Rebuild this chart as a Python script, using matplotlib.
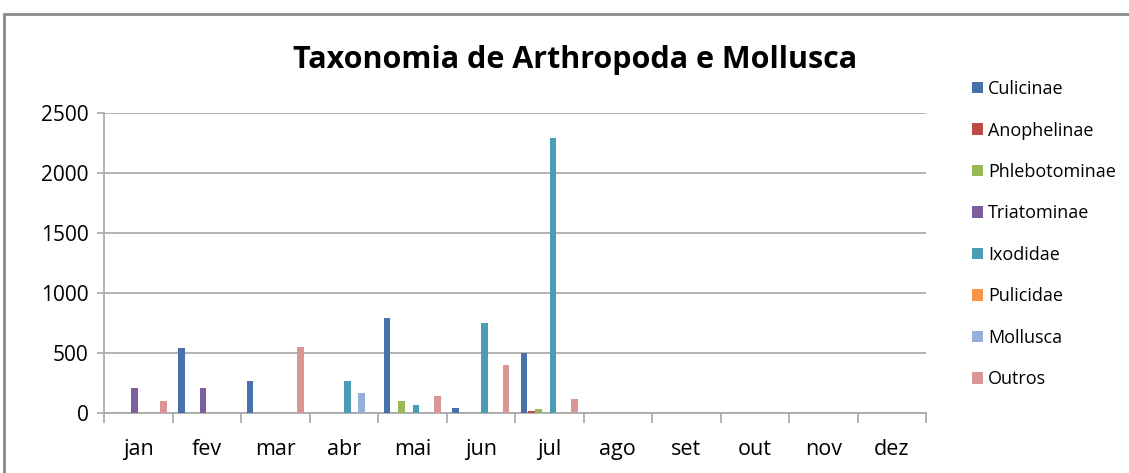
import matplotlib.pyplot as plt
import numpy as np
from matplotlib.patches import Rectangle, Patch

meses = ['jan', 'fev', 'mar', 'abr', 'mai', 'jun', 'jul', 'ago', 'set', 'out', 'nov', 'dez']
series = ['Culicinae', 'Anophelinae', 'Phlebotominae', 'Triatominae',
          'Ixodidae', 'Pulicidae', 'Mollusca', 'Outros']

culicinae     = [0, 540, 270, 0, 795, 45, 500, 0, 0, 0, 0, 0]
anophelinae   = [0, 0, 0, 0, 0, 0, 15, 0, 0, 0, 0, 0]
phlebotominae = [0, 0, 0, 0, 100, 0, 35, 0, 0, 0, 0, 0]
triatominae   = [205, 205, 0, 0, 0, 0, 0, 0, 0, 0, 0, 0]
ixodidae      = [0, 0, 0, 270, 65, 750, 2290, 0, 0, 0, 0, 0]
pulicidae     = [0, 0, 0, 0, 0, 0, 0, 0, 0, 0, 0, 0]
mollusca      = [0, 0, 0, 165, 0, 0, 0, 0, 0, 0, 0, 0]
outros        = [100, 0, 550, 0, 140, 400, 120, 0, 0, 0, 0, 0]

valores = [culicinae, anophelinae, phlebotominae, triatominae,
           ixodidae, pulicidae, mollusca, outros]
cores = ['#4672A9', '#BE4B48', '#98B954', '#7D5FA0',
         '#4A9DB5', '#F79646', '#95B0D8', '#D99694']

plt.rcParams['font.family'] = ['Open Sans', 'DejaVu Sans']

fig = plt.figure(figsize=(11.29, 4.73), dpi=100)
ax = fig.add_axes([104 / 1129, 1 - 413 / 473, (926 - 104) / 1129, 300 / 473])

# moldura externa do gráfico
fig.patches.append(Rectangle((4 / 1129, -0.1), 1.2, 1 - 14 / 473 + 0.1,
                             transform=fig.transFigure, fill=False,
                             edgecolor='#8a8a8a', linewidth=2))

x = np.arange(len(meses))
w = 1 / 9.5
for k, (nome, vals) in enumerate(zip(series, valores)):
    v = np.array(vals, dtype=float)
    v[v == 0] = np.nan
    ax.bar(x + 0.5 + (k - 3.5) * w, v, width=w * 0.92, color=cores[k], zorder=3)

ax.set_xlim(0, 12)
ax.set_ylim(0, 2500)
ax.set_yticks([0, 500, 1000, 1500, 2000, 2500])
ax.yaxis.grid(True, color='#a6a6a6', linewidth=1.2, zorder=0)
ax.set_xticks(x + 0.5)
ax.set_xticklabels(meses)
ax.set_xticks(np.arange(13), minor=True)
ax.tick_params(axis='x', which='major', length=0, labelsize=15.5, pad=19)
ax.tick_params(axis='x', which='minor', length=7, color='#a6a6a6', width=1.2)
ax.tick_params(axis='y', length=5, color='#a6a6a6', width=1.2, labelsize=15, pad=6)
for s in ['top', 'right']:
    ax.spines[s].set_visible(False)
for s in ['left', 'bottom']:
    ax.spines[s].set_color('#a6a6a6')
    ax.spines[s].set_linewidth(1.2)

fig.text(575 / 1129, 1 - 60 / 473, 'Taxonomia de Arthropoda e Mollusca',
         ha='center', va='center', fontsize=22, fontweight='bold')

handles = [Patch(facecolor=c, edgecolor='none') for c in cores]
fig.legend(handles, series, loc='upper left', bbox_to_anchor=(963 / 1129, 1 - 71 / 473),
           frameon=False, fontsize=13, handlelength=0.6, handleheight=0.6,
           handletextpad=0.3, labelspacing=1.3, borderpad=0)

fig.savefig('out.png', dpi=100)
